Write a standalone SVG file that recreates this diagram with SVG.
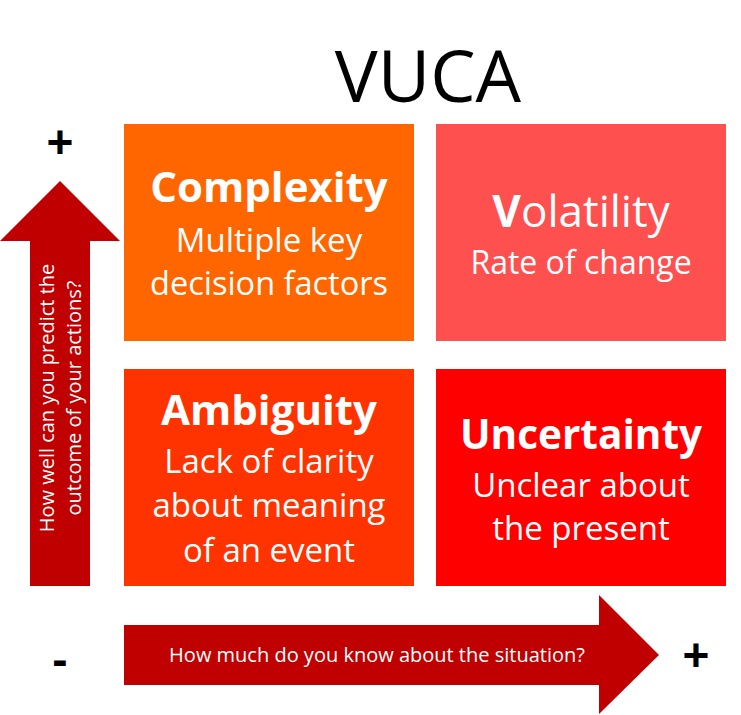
<svg xmlns="http://www.w3.org/2000/svg" width="741" height="715" viewBox="0 0 741 715">
<style>
.box text{fill:#fff;font-family:"Open Sans","Liberation Sans",sans-serif;text-anchor:middle}
.h{font-weight:bold;font-size:42px}
.s{font-size:33px}
.arr{fill:#C00000}
.lbl{fill:#fff;font-family:"Open Sans","Liberation Sans",sans-serif;font-size:20px;text-anchor:middle}
.sign{fill:#000;font-family:"Liberation Sans",sans-serif;font-weight:bold;font-size:46px;text-anchor:middle}
</style>
<rect width="741" height="715" fill="#fff"/>
<text id="title" x="428" y="102" font-family="'Open Sans','Liberation Sans',sans-serif" font-size="72" text-anchor="middle" fill="#000">VUCA</text>
<g id="connectors">
  <g id="arrow-vertical">
    <polygon class="arr" points="60,181 120,241 90,241 90,586 30,586 30,241 0,241"/>
    <g transform="translate(54,398) rotate(-90)">
      <text class="lbl" x="0" y="0">How well can you predict the</text>
      <text class="lbl" x="0" y="27">outcome of your actions?</text>
    </g>
  </g>
  <g id="arrow-horizontal">
    <polygon class="arr" points="124,625 599,625 599,595 659,655 599,714 599,685 124,685"/>
    <text class="lbl" x="377" y="662">How much do you know about the situation?</text>
  </g>
</g>
<g id="signs">
  <text class="sign" x="60" y="158">+</text>
  <text class="sign" x="60" y="675">-</text>
  <text class="sign" x="696" y="671">+</text>
</g>
<g id="complexity" class="box">
  <rect x="124" y="124" width="290" height="217" fill="#FF6600"/>
  <text class="h" x="269" y="202">Complexity</text>
  <text class="s" x="269" y="252">Multiple key</text>
  <text class="s" x="269" y="295" style="font-size:32.5px">decision factors</text>
</g>
<g id="volatility" class="box">
  <rect x="436" y="124" width="290" height="217" fill="#FF5050"/>
  <text x="581" y="227" style="font-size:44px"><tspan font-weight="bold">V</tspan>olatility</text>
  <text class="s" x="581" y="274" style="font-size:32px">Rate of change</text>
</g>
<g id="ambiguity" class="box">
  <rect x="124" y="369" width="290" height="217" fill="#FF3300"/>
  <text class="h" x="269" y="425">Ambiguity</text>
  <text class="s" x="269" y="473">Lack of clarity</text>
  <text class="s" x="269" y="517">about meaning</text>
  <text class="s" x="269" y="562">of an event</text>
</g>
<g id="uncertainty" class="box">
  <rect x="436" y="369" width="290" height="217" fill="#FF0000"/>
  <text class="h" x="581" y="449" style="font-size:40.5px">Uncertainty</text>
  <text class="s" x="581" y="497">Unclear about</text>
  <text class="s" x="581" y="540">the present</text>
</g>
</svg>
